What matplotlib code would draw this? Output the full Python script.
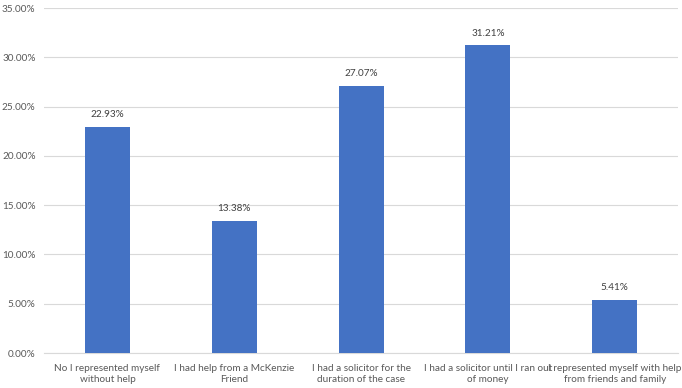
import matplotlib
matplotlib.use("Agg")
import matplotlib.pyplot as plt
from matplotlib.ticker import FuncFormatter

categories = ["No I represented myself\nwithout help",
              "I had help from a McKenzie\nFriend",
              "I had a solicitor for the\nduration of the case",
              "I had a solicitor until I ran out\nof money",
              "I represented myself with help\nfrom friends and family"]
values = [22.93, 13.38, 27.07, 31.21, 5.41]
yticks = [0, 5, 10, 15, 20, 25, 30, 35]

plt.rcParams['font.family'] = ['Lato', 'DejaVu Sans']

fig = plt.figure(figsize=(6.82, 3.88), dpi=100)
ax = fig.add_axes([0.0645, 0.0902, 0.93, 0.889])
x = list(range(len(categories)))
ax.bar(x, values, width=0.355, color='#4472C4', zorder=3)
for xi, v in zip(x, values):
    ax.text(xi, v + 0.8, f"{v:.2f}%", ha='center', va='bottom', fontsize=7.2,
            color='#404040')
ax.set_ylim(0, 35)
ax.set_xlim(-0.5, len(categories) - 0.5)
ax.set_yticks(yticks)
ax.yaxis.set_major_formatter(FuncFormatter(lambda v, p: f"{v:.2f}%"))
ax.set_xticks(x)
ax.set_xticklabels(categories, fontsize=7.2, color='#595959', linespacing=1.25)
ax.tick_params(axis='y', labelsize=7.2, labelcolor='#595959', length=0, pad=6)
ax.tick_params(axis='x', length=0, pad=8)
ax.grid(axis='y', color='#D9D9D9', linewidth=0.8, zorder=0)
for s in ['top', 'right', 'left']:
    ax.spines[s].set_visible(False)
ax.spines['bottom'].set_color('#D9D9D9')
ax.spines['bottom'].set_linewidth(0.8)
fig.savefig("out.png", dpi=100)
